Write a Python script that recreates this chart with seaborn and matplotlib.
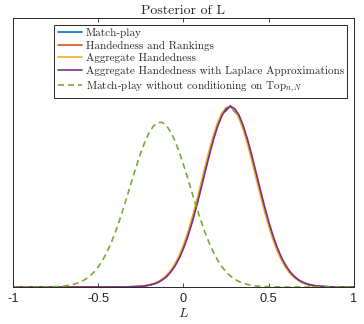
import numpy as np
import pandas as pd
import seaborn as sns
import matplotlib
matplotlib.use("Agg")
import matplotlib.pyplot as plt

L_grid = np.round(np.linspace(-1, 1, 81), 3)

match_play = [0.0] * 26 + [
    0.001, 0.002, 0.004, 0.006, 0.010, 0.017, 0.028, 0.045, 0.069, 0.105,
    0.155, 0.223, 0.312, 0.427, 0.569, 0.740, 0.939, 1.161, 1.399, 1.645,
    1.886, 2.118, 2.287, 2.447, 2.492, 2.561, 2.476, 2.421, 2.246, 2.056,
    1.829, 1.586, 1.342, 1.106, 0.889, 0.697, 0.532, 0.397, 0.288, 0.204,
    0.141, 0.095, 0.063, 0.040, 0.025, 0.015, 0.009, 0.006, 0.003, 0.002,
    0.001] + [0.0] * 4

hand_rank = [0.0] * 26 + [
    0.001, 0.002, 0.004, 0.006, 0.010, 0.017, 0.028, 0.045, 0.069, 0.105,
    0.155, 0.223, 0.312, 0.427, 0.569, 0.740, 0.939, 1.161, 1.399, 1.645,
    1.886, 2.107, 2.295, 2.438, 2.524, 2.549, 2.509, 2.408, 2.254, 2.056,
    1.829, 1.586, 1.342, 1.106, 0.889, 0.697, 0.532, 0.397, 0.288, 0.204,
    0.141, 0.095, 0.063, 0.040, 0.025, 0.015, 0.009, 0.006, 0.003, 0.002,
    0.001] + [0.0] * 4

agg_hand = [0.0] * 26 + [
    0.001, 0.002, 0.004, 0.006, 0.011, 0.018, 0.030, 0.048, 0.074, 0.111,
    0.164, 0.235, 0.328, 0.447, 0.594, 0.770, 0.973, 1.198, 1.438, 1.684,
    1.923, 2.140, 2.322, 2.456, 2.533, 2.547, 2.497, 2.387, 2.225, 2.022,
    1.791, 1.547, 1.303, 1.069, 0.856, 0.668, 0.508, 0.377, 0.273, 0.192,
    0.132, 0.089, 0.058, 0.037, 0.023, 0.014, 0.008, 0.005, 0.003, 0.002,
    0.001] + [0.0] * 4

agg_laplace = [0.0] * 26 + [
    0.001, 0.002, 0.003, 0.005, 0.009, 0.016, 0.026, 0.041, 0.064, 0.098,
    0.145, 0.210, 0.295, 0.406, 0.544, 0.710, 0.905, 1.124, 1.360, 1.606,
    1.848, 2.073, 2.268, 2.419, 2.515, 2.550, 2.520, 2.429, 2.282, 2.090,
    1.867, 1.625, 1.380, 1.142, 0.922, 0.725, 0.556, 0.416, 0.303, 0.215,
    0.149, 0.101, 0.067, 0.043, 0.027, 0.016, 0.010, 0.006, 0.003, 0.002,
    0.001] + [0.0] * 4

no_top = [0.0] * 7 + [
    0.001, 0.002, 0.004, 0.006, 0.009, 0.015, 0.023, 0.035, 0.052, 0.076,
    0.109, 0.153, 0.211, 0.284, 0.376, 0.488, 0.620, 0.773, 0.944, 1.130,
    1.326, 1.525, 1.719, 1.900, 2.059, 2.187, 2.277, 2.324, 2.325, 2.280,
    2.191, 2.065, 1.907, 1.727, 1.533, 1.333, 1.137, 0.951, 0.779, 0.626,
    0.493, 0.380, 0.288, 0.213, 0.155, 0.111, 0.077, 0.053, 0.036, 0.023,
    0.015, 0.010, 0.006, 0.004, 0.002, 0.001] + [0.0] * 18

series_names = [
    "Match-play",
    "Handedness and Rankings",
    "Aggregate Handedness",
    "Aggregate Handedness with Laplace Approximations",
    "Match-play without conditioning on Top$_{n,N}$",
]
series_vals = [match_play, hand_rank, agg_hand, agg_laplace, no_top]
colors = ["#0072BD", "#D95319", "#EDB120", "#7E2F8E", "#77AC30"]

tick_vals = [-1, -0.5, 0, 0.5, 1]
tick_labels = ["-1", "-0.5", "0", "0.5", "1"]

sns.set_theme(style="white")
plt.rcParams["mathtext.fontset"] = "cm"
plt.rcParams["font.family"] = ["Liberation Sans", "DejaVu Sans"]

fig = plt.figure(figsize=(3.64, 3.24), dpi=100)
ax = fig.add_axes([0.0357, 0.1142, 0.9368, 0.8302])

for name, vals, col in zip(series_names, series_vals, colors):
    df = pd.DataFrame({"L": L_grid, "density": vals})
    ls = (0, (3.6, 2.4)) if "without" in name else "-"
    sns.lineplot(data=df, x="L", y="density", color=col, linewidth=1.2,
                 linestyle=ls, label=name, ax=ax)

ax.set_xlim(-1, 1)
ax.set_ylim(0, 3.8)
ax.set_xticks(tick_vals)
ax.set_xticklabels(tick_labels)
ax.set_yticks([])
ax.tick_params(axis="x", direction="in", top=True, bottom=True, length=3,
               width=0.6, colors="#262626", labelsize=9.2, pad=4)
for sp in ax.spines.values():
    sp.set_color("#262626")
    sp.set_linewidth(0.7)
    sp.set_visible(True)

ax.set_ylabel("")
ax.set_xlabel("$L$", fontsize=10, labelpad=1, color="#262626")
ax.set_title("Posterior of L", fontfamily="cmr10", fontsize=10, pad=3,
             color="#262626")

leg = ax.legend(loc="upper right", prop={"family": "cmr10", "size": 8.0},
                frameon=True, fancybox=False, framealpha=1,
                edgecolor="#262626", handlelength=2.2, handletextpad=0.35,
                labelspacing=0.24, borderpad=0.3, borderaxespad=0.6)
leg.get_frame().set_linewidth(0.7)
for t in leg.get_texts():
    t.set_color("#262626")

fig.savefig("out.png", dpi=100)
